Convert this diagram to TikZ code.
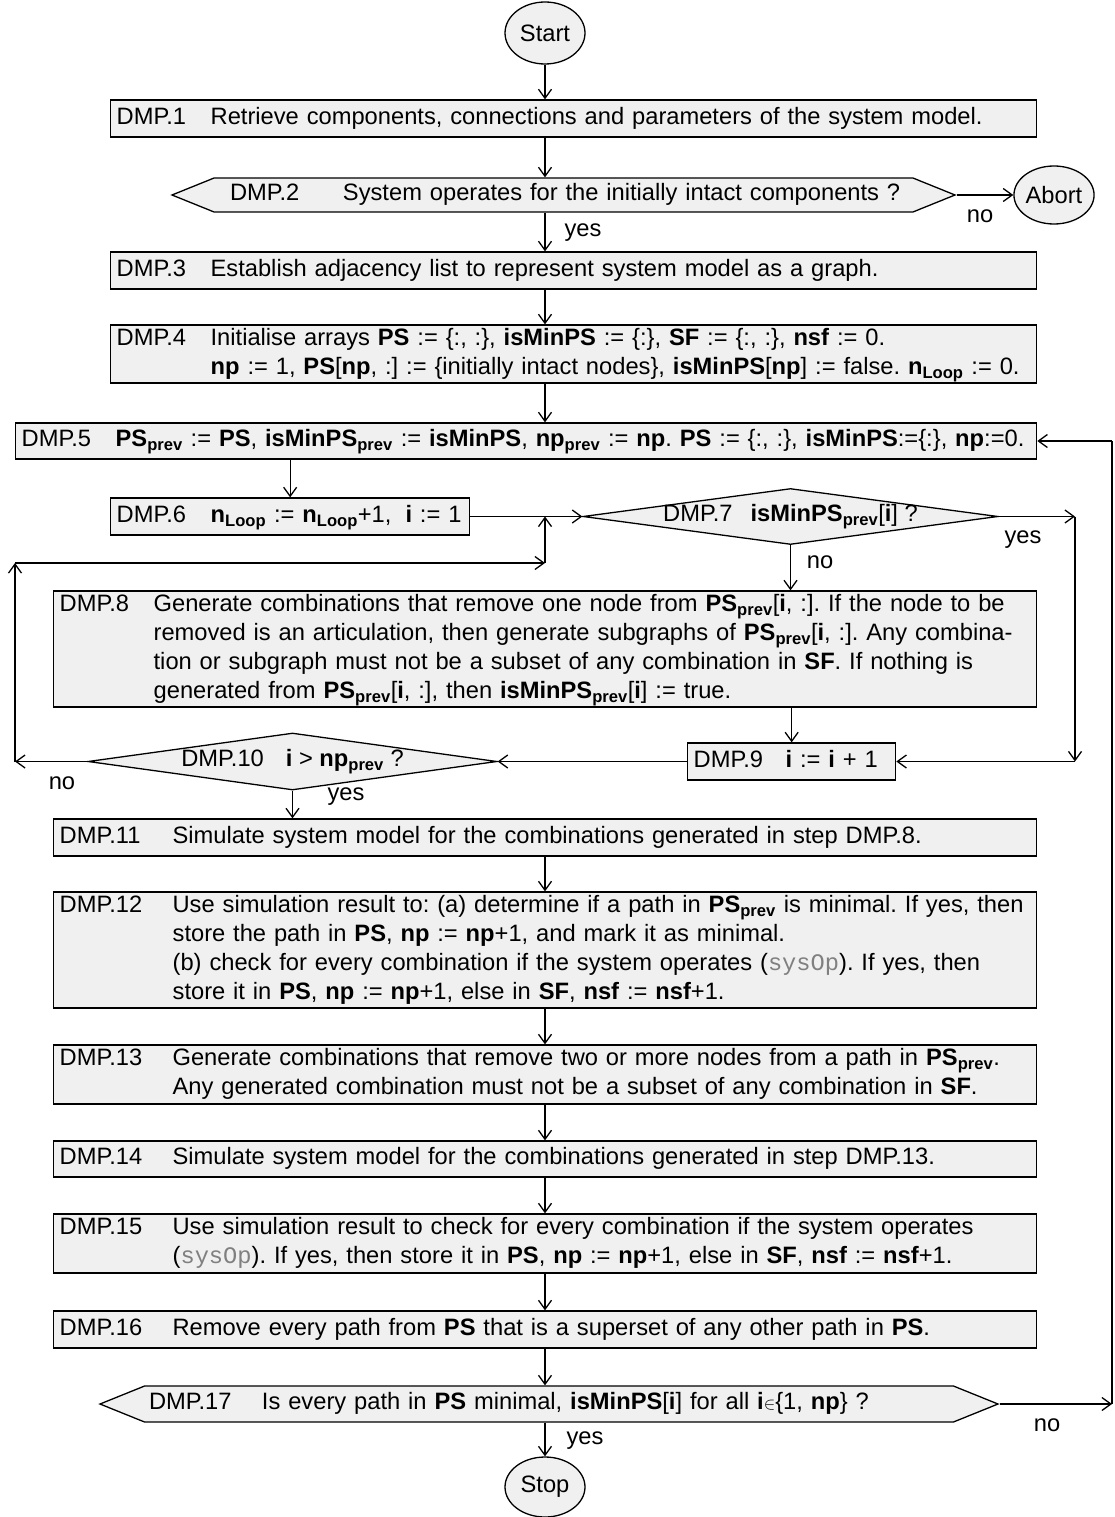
\documentclass[tikz,border=0pt]{standalone}
\usepackage{fontspec}
\setmainfont{Liberation Sans}
\newfontfamily\codefont{Liberation Mono}
\usetikzlibrary{shapes.geometric,shapes.symbols,arrows.meta,calc}

\definecolor{boxfill}{HTML}{F0F0F0}
\newcommand{\prv}[1]{\textbf{#1}\textsubscript{\textbf{prev}}}
\newcommand{\nloop}{\textbf{n}\textsubscript{\textbf{Loop}}}
\newcommand{\sysop}{{\codefont\color{gray}sysOp}}
\newcommand{\dmp}[3]{\begin{tabular}{@{}p{#1}@{}l@{}}#2&#3\end{tabular}}
\frenchspacing

\begin{document}
\begin{tikzpicture}[x=1pt, y=-1pt, font=\fontsize{23.7}{29}\selectfont,
    box/.style={draw, fill=boxfill, line width=1.3pt, rectangle, anchor=west,
        inner xsep=6pt, inner ysep=0pt, minimum height=37pt, align=left},
    hexa/.style={draw, fill=boxfill, line width=1.3pt, signal, signal to=west and east,
        signal pointer angle=44, inner sep=0pt, align=left},
    decide/.style={draw, fill=boxfill, line width=1.3pt, diamond, inner sep=0pt},
    term/.style={draw, fill=boxfill, line width=1.3pt, ellipse, inner sep=0pt, minimum width=80pt},
    arr/.style={line width=1.3pt, -{Straight Barb[length=9pt,width=13pt]}},
    line/.style={line width=1.3pt}]
    \useasboundingbox (0,0) rectangle (1114,1517);

    % terminals
    \node[term, minimum height=62pt] (start) at (545,33) {Start};
    \node[term, minimum height=58pt] (abort) at (1054,195) {Abort};
    \node[term, minimum height=60pt] (stop) at (545,1487) {Stop};

    % steps
    \node[box, text width=914pt] (d1) at (110,118.5)
        {\dmp{94pt}{DMP.1}{Retrieve components, connections and parameters of the system model.}};
    \node[hexa, text width=667pt, minimum width=783pt, minimum height=34pt] (d2) at (563.5,195)
        {\dmp{113pt}{DMP.2}{System operates for the initially intact components ?}};
    \node[box, text width=914pt] (d3) at (110,270.5)
        {\dmp{94pt}{DMP.3}{Establish adjacency list to represent system model as a graph.}};
    \node[box, text width=914pt, minimum height=58pt] (d4) at (110,354)
        {\dmp{94pt}{DMP.4}{Initialise arrays \textbf{PS} := \{:, :\}, \textbf{isMinPS} := \{:\}, \textbf{SF} := \{:, :\}, \textbf{nsf} := 0.\\
        & \textbf{np} := 1, \textbf{PS}[\textbf{np}, :] := \{initially intact nodes\}, \textbf{isMinPS}[\textbf{np}] := false. \nloop{} := 0.}};
    \node[box, text width=1009pt, minimum height=36pt] (d5) at (15,441)
        {\dmp{94pt}{DMP.5}{\prv{PS} := \textbf{PS}, \prv{isMinPS} := \textbf{isMinPS}, \prv{np} := \textbf{np}. \textbf{PS} := \{:, :\}, \textbf{isMinPS}:=\{:\}, \textbf{np}:=0.}};
    \node[box, text width=347pt] (d6) at (110,516.5)
        {\dmp{94pt}{DMP.6}{\nloop{} := \nloop+1,\hspace{14pt}\textbf{i} := 1}};
    \node[decide, minimum width=415pt, minimum height=56pt] (d7) at (790.5,516.5)
        {\makebox[0pt]{DMP.7\hspace{18pt}\prv{isMinPS}[\textbf{i}] ?}};
    \node[box, text width=971pt, minimum height=114pt] (d8) at (53,649)
        {\dmp{94pt}{DMP.8}{Generate combinations that remove one node from \prv{PS}[\textbf{i}, :]. If the node to be\\
        & removed is an articulation, then generate subgraphs of \prv{PS}[\textbf{i}, :]. Any combina-\\
        & tion or subgraph must not be a subset of any combination in \textbf{SF}. If nothing is\\
        & generated from \prv{PS}[\textbf{i}, :], then \prv{isMinPS}[\textbf{i}] := true.}};
    \node[box, text width=196pt] (d9) at (687,761.5)
        {\dmp{92pt}{DMP.9}{\textbf{i} := \textbf{i} + 1}};
    \node[decide, minimum width=409pt, minimum height=57pt] (d10) at (292.5,761.5)
        {\makebox[0pt]{DMP.10\hspace{22pt}\textbf{i} > \prv{np} ?}};
    \node[box, text width=971pt] (d11) at (53,837.5)
        {\dmp{113pt}{DMP.11}{Simulate system model for the combinations generated in step DMP.8.}};
    \node[box, text width=971pt, minimum height=114pt] (d12) at (53,950)
        {\dmp{113pt}{DMP.12}{Use simulation result to: (a) determine if a path in \prv{PS} is minimal. If yes, then\\
        & store the path in \textbf{PS}, \textbf{np} := \textbf{np}+1, and mark it as minimal.\\
        & (b) check for every combination if the system operates (\sysop). If yes, then\\
        & store it in \textbf{PS}, \textbf{np} := \textbf{np}+1, else in \textbf{SF}, \textbf{nsf} := \textbf{nsf}+1.}};
    \node[box, text width=971pt, minimum height=59pt] (d13) at (53,1074.5)
        {\dmp{113pt}{DMP.13}{Generate combinations that remove two or more nodes from a path in \prv{PS}.\\
        & Any generated combination must not be a subset of any combination in \textbf{SF}.}};
    \node[box, text width=971pt, minimum height=36pt] (d14) at (53,1159)
        {\dmp{113pt}{DMP.14}{Simulate system model for the combinations generated in step DMP.13.}};
    \node[box, text width=971pt, minimum height=59pt] (d15) at (53,1243.5)
        {\dmp{113pt}{DMP.15}{Use simulation result to check for every combination if the system operates\\
        & (\sysop). If yes, then store it in \textbf{PS}, \textbf{np} := \textbf{np}+1, else in \textbf{SF}, \textbf{nsf} := \textbf{nsf}+1.}};
    \node[box, text width=971pt] (d16) at (53,1329.5)
        {\dmp{113pt}{DMP.16}{Remove every path from \textbf{PS} that is a superset of any other path in \textbf{PS}.}};
    \node[hexa, text width=800pt, minimum width=898pt, minimum height=36pt] (d17) at (549,1404)
        {\dmp{113pt}{DMP.17}{Is every path in \textbf{PS} minimal, \textbf{isMinPS}[\textbf{i}] for all \textbf{i}{\fontsize{18}{20}\selectfont$\in$}\{1, \textbf{np}\} ?}};

    % branch labels
    \node (yes2) at (583,233) {yes};
    \node (no2) at (980,216) {no};
    \node (yes7) at (1023,540) {yes};
    \node (no7) at (820,562) {no};
    \node (no10) at (62,783) {no};
    \node (yes10) at (346,797) {yes};
    \node (no17) at (1047,1425) {no};
    \node (yes17) at (585,1441) {yes};

    % corners of the loops
    \coordinate (c7) at (1075,516.5);
    \coordinate (c9) at (1075,761.5);
    \coordinate (c10) at (15,761.5);
    \coordinate (c11) at (15,563);
    \coordinate (c12) at (545,563);
    \coordinate (c17) at (1112,1404);
    \coordinate (c5) at (1112,441);

    % connectors
    \draw[arr] (start.south) -- (start.south |- d1.north);
    \draw[arr] (start.south |- d1.south) -- (start.south |- d2.north);
    \draw[arr] (d2.east) -- (abort.west);
    \draw[arr] (start.south |- d2.south) -- (start.south |- d3.north);
    \draw[arr] (start.south |- d3.south) -- (start.south |- d4.north);
    \draw[arr] (start.south |- d4.south) -- (start.south |- d5.north);
    \draw[arr] (d5.south -| d6.north) -- (d6.north);
    \draw[arr] (d6.east) -- (d7.west);
    \draw[arr] (d7.east) -- (c7);
    \draw[arr] (c7) -- (c9);
    \draw[arr] (c9) -- (d9.east);
    \draw[arr] (d7.south) -- (d7.south |- d8.north);
    \draw[arr] (d8.south -| d9.north) -- (d9.north);
    \draw[arr] (d9.west) -- (d10.east);
    \draw[arr] (d10.west) -- (c10);
    \draw[arr] (c10) -- (c11);
    \draw[arr] (c11) -- (c12);
    \draw[arr] (c12) -- (c12 |- d6.east);
    \draw[arr] (d10.south) -- (d10.south |- d11.north);
    \foreach \a/\b in {d11/d12, d12/d13, d13/d14, d14/d15, d15/d16, d16/d17}
        \draw[arr] (start.south |- \a.south) -- (start.south |- \b.north);
    \draw[arr] (start.south |- d17.south) -- (stop.north);
    \draw[arr] (d17.east) -- (c17);
    \draw[line] (c17) -- (c5);
    \draw[arr] (c5) -- (d5.east);
\end{tikzpicture}
\end{document}
